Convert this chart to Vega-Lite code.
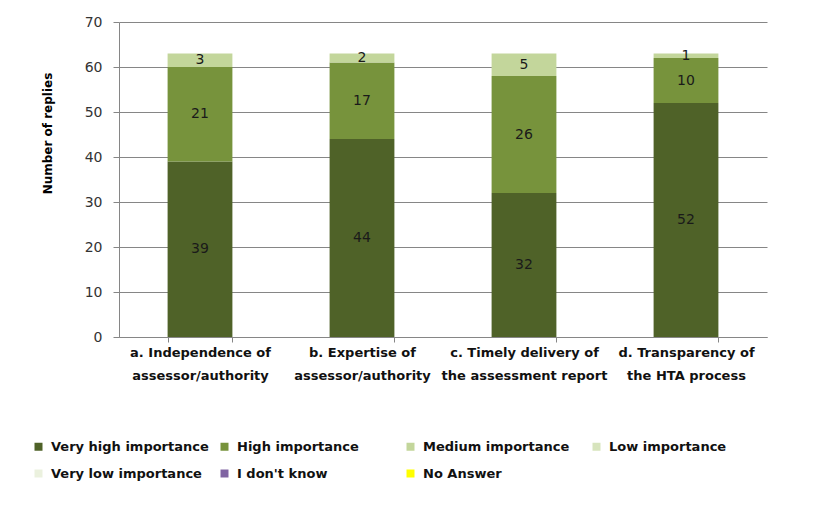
{
  "$schema": "https://vega.github.io/schema/vega-lite/v6.json",
  "width": 648,
  "height": 315,
  "autosize": {"type": "none"},
  "padding": {"left": 119, "top": 22, "right": 54, "bottom": 181},
  "background": "#ffffff",
  "config": {
    "view": {"stroke": null},
    "font": "DejaVu Sans"
  },
  "data": {
    "values": [
      {"item": "a. Independence of|assessor/authority", "level": "Very high importance", "replies": 39},
      {"item": "a. Independence of|assessor/authority", "level": "High importance", "replies": 21},
      {"item": "a. Independence of|assessor/authority", "level": "Medium importance", "replies": 3},
      {"item": "b. Expertise of|assessor/authority", "level": "Very high importance", "replies": 44},
      {"item": "b. Expertise of|assessor/authority", "level": "High importance", "replies": 17},
      {"item": "b. Expertise of|assessor/authority", "level": "Medium importance", "replies": 2},
      {"item": "c. Timely delivery of|the assessment report", "level": "Very high importance", "replies": 32},
      {"item": "c. Timely delivery of|the assessment report", "level": "High importance", "replies": 26},
      {"item": "c. Timely delivery of|the assessment report", "level": "Medium importance", "replies": 5},
      {"item": "d. Transparency of|the HTA process", "level": "Very high importance", "replies": 52},
      {"item": "d. Transparency of|the HTA process", "level": "High importance", "replies": 10},
      {"item": "d. Transparency of|the HTA process", "level": "Medium importance", "replies": 1}
    ]
  },
  "encoding": {
    "x": {
      "field": "item",
      "type": "nominal",
      "sort": null,
      "scale": {"paddingInner": 0.6, "paddingOuter": 0.3},
      "axis": {
        "title": null,
        "labelAngle": 0,
        "labelExpr": "isValid(datum.value) ? split(datum.value, '|') : ''",
        "labelFont": "DejaVu Sans",
        "labelFontWeight": "bold",
        "labelFontSize": 13,
        "labelColor": "#111111",
        "labelLineHeight": 23,
        "labelPadding": 4,
        "labelBaseline": "top",
        "tickBand": "extent",
        "tickSize": 5,
        "tickColor": "#868686",
        "domainColor": "#868686",
        "grid": false
      }
    },
    "y": {
      "field": "replies",
      "type": "quantitative",
      "stack": "zero",
      "scale": {"domain": [0, 70], "nice": false},
      "axis": {
        "title": "Number of replies",
        "titleFont": "DejaVu Sans",
        "titleFontWeight": "bold",
        "titleFontSize": 12,
        "titleColor": "#000000",
        "titleX": -72,
        "titleY": 111,
        "titleBaseline": "middle",
        "titleAlign": "center",
        "titleAngle": -90,
        "values": [0, 10, 20, 30, 40, 50, 60, 70],
        "labelFont": "DejaVu Sans",
        "labelFontSize": 14,
        "labelColor": "#333333",
        "labelPadding": 11,
        "tickSize": 6,
        "tickColor": "#868686",
        "domainColor": "#868686",
        "gridColor": "#868686",
        "gridWidth": 1
      }
    },
    "order": {"field": "replies", "type": "quantitative", "sort": "descending"}
  },
  "layer": [
    {
      "mark": {"type": "bar"},
      "encoding": {
        "color": {
          "field": "level",
          "type": "nominal",
          "sort": ["Very high importance", "High importance", "Medium importance", "Low importance", "Very low importance", "I don't know", "No Answer"],
          "scale": {
            "domain": ["Very high importance", "High importance", "Medium importance", "Low importance", "Very low importance", "I don't know", "No Answer"],
            "range": ["#4F6228", "#77933C", "#C3D69B", "#D7E4BD", "#EBF1DE", "#8064A2", "#FFFF00"]
          },
          "legend": {
            "title": null,
            "orient": "none",
            "legendX": -87,
            "legendY": 418,
            "direction": "horizontal",
            "columns": 4,
            "gridAlign": "all",
            "columnPadding": 9,
            "rowPadding": 13,
            "symbolType": "square",
            "symbolSize": 64,
            "symbolStrokeWidth": 0,
            "labelOffset": 6,
            "labelFont": "DejaVu Sans",
            "labelFontWeight": "bold",
            "labelFontSize": 13,
            "labelColor": "#111111",
            "labelLimit": 300
          }
        }
      }
    },
    {
      "mark": {"type": "text", "font": "DejaVu Sans", "fontSize": 14, "color": "#1a1a1a", "baseline": "middle"},
      "encoding": {
        "y": {"field": "replies", "type": "quantitative", "stack": "zero", "bandPosition": 0.5},
        "detail": {"field": "level", "type": "nominal"},
        "text": {"field": "replies", "type": "quantitative"}
      }
    }
  ]
}
